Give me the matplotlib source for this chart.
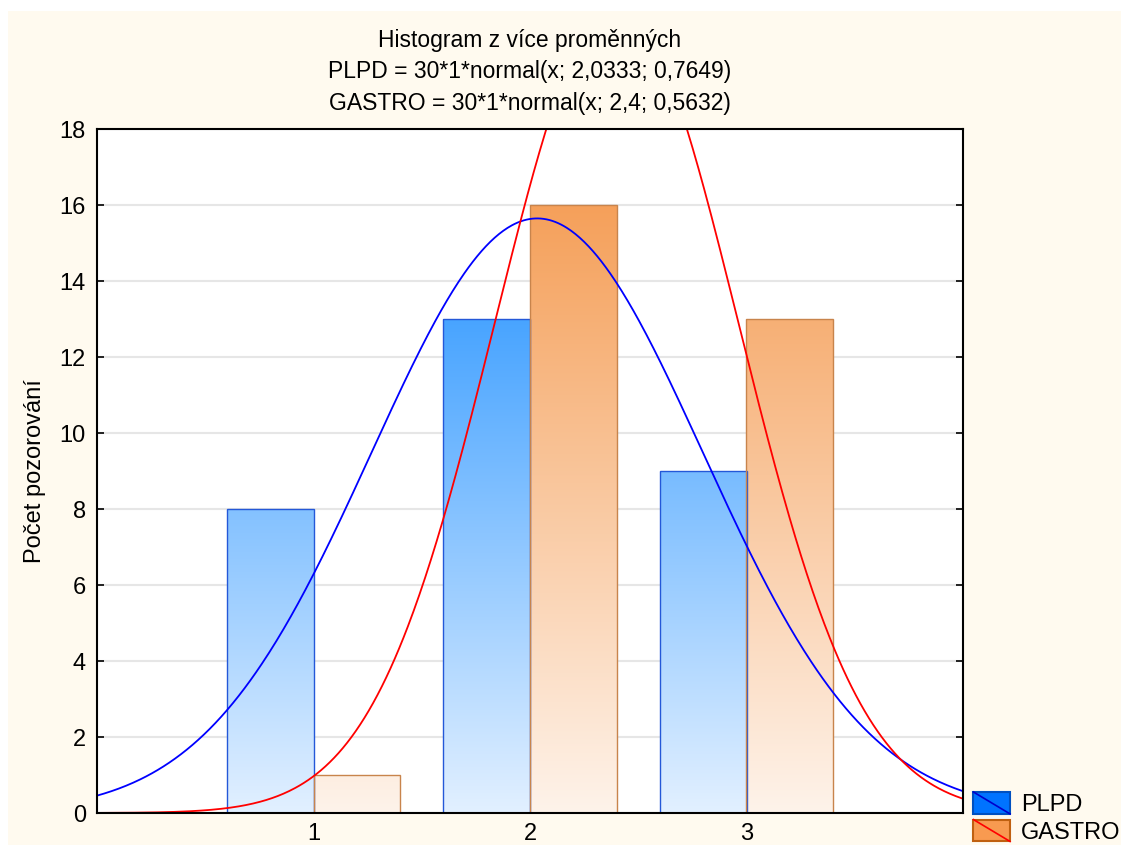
import numpy as np
import matplotlib
matplotlib.use('Agg')
import matplotlib.pyplot as plt
from matplotlib.patches import Rectangle
from matplotlib.lines import Line2D
from matplotlib.legend_handler import HandlerBase
from matplotlib.colors import LinearSegmentedColormap

plt.rcParams['font.family'] = ['Liberation Sans', 'DejaVu Sans']

categories = [1, 2, 3]
plpd_counts = [8, 13, 9]
gastro_counts = [1, 16, 13]
# fitted normal curves from the title: n * binwidth * normal(x; mean, sd)
plpd_fit = (30, 1, 2.0333, 0.7649)
gastro_fit = (30, 1, 2.4, 0.5632)
y_ticks = [0, 2, 4, 6, 8, 10, 12, 14, 16, 18]

title = ('Histogram z více proměnných\n'
         'PLPD = 30*1*normal(x; 2,0333; 0,7649)\n'
         'GASTRO = 30*1*normal(x; 2,4; 0,5632)')


def normal_curve(x, n, bw, mu, sd):
    return n * bw * np.exp(-0.5 * ((x - mu) / sd) ** 2) / (sd * np.sqrt(2 * np.pi))


class DiagHandler(HandlerBase):
    def __init__(self, face, edge, line):
        super().__init__()
        self.face, self.edge, self.line = face, edge, line

    def create_artists(self, legend, orig, xd, yd, w, h, fs, trans):
        r = Rectangle((-xd, -yd), w, h, facecolor=self.face, edgecolor=self.edge,
                      lw=1.5, transform=trans)
        l = Line2D([-xd, -xd + w], [-yd + h, -yd], color=self.line, lw=1.2, transform=trans)
        return [r, l]


fig = plt.figure(figsize=(11.21, 8.55), dpi=100)
fig.patch.set_facecolor('white')
fig.patches.append(Rectangle((8 / 1121, 10 / 855), 1 - 8 / 1121, 1 - 21 / 855,
                             transform=fig.transFigure, facecolor='#FFFAEF',
                             edgecolor='none', zorder=-10))

ax = fig.add_axes([97 / 1121, 42 / 855, 866 / 1121, 684 / 855])
ax.set_facecolor('white')
ax.set_xlim(0, 4)
ax.set_ylim(0, 18)

bw = 0.4
blue_cmap = LinearSegmentedColormap.from_list('b', ['#E2F0FF', '#48A4FF'])
orange_cmap = LinearSegmentedColormap.from_list('o', ['#FEF3EA', '#F5A05A'])

series = [(plpd_counts, -bw, blue_cmap, '#2458D8'),
          (gastro_counts, 0, orange_cmap, '#C8844C')]
for counts, off, cmap, edge in series:
    top = max(counts)
    for c, v in zip(categories, counts):
        x0 = c + off
        grad = np.linspace(0, 1, 256).reshape(-1, 1)
        im = ax.imshow(grad, cmap=cmap, origin='lower', aspect='auto',
                       extent=(x0, x0 + bw, 0, top), zorder=2, interpolation='bilinear')
        rect = Rectangle((x0, 0), bw, v, facecolor='none', edgecolor=edge, lw=1.0, zorder=3)
        ax.add_patch(rect)
        im.set_clip_path(rect)

xs = np.linspace(0, 4, 600)
ax.plot(xs, normal_curve(xs, *plpd_fit), color='#0000FF', lw=1.3, zorder=4)
ax.plot(xs, normal_curve(xs, *gastro_fit), color='#FF0000', lw=1.3, zorder=4)

ax.set_yticks(y_ticks)
ax.set_xticks(categories)
ax.grid(axis='y', color='#E6E6E6', lw=1.5, zorder=0)
ax.set_axisbelow(True)
ax.tick_params(axis='y', direction='in', length=5, width=1.2, labelsize=17,
               right=True, pad=8)
ax.tick_params(axis='x', direction='in', length=4, width=1.2, labelsize=17, pad=7)
for s in ax.spines.values():
    s.set_linewidth(1.5)
    s.set_zorder(5)

ax.set_ylabel('Počet pozorování', fontsize=17, labelpad=10)
ax.set_title(title, fontsize=16.5, linespacing=1.45, pad=14)

handles = [Rectangle((0, 0), 1, 1), Rectangle((0, 0), 1, 1)]
leg = fig.legend(handles, ['PLPD', 'GASTRO'], loc='lower left',
                 bbox_to_anchor=(964 / 1121, 2 / 855), frameon=False, fontsize=17,
                 handlelength=1.55, handleheight=1.05, handletextpad=0.45, labelspacing=0.15,
                 borderaxespad=0,
                 handler_map={handles[0]: DiagHandler('#0073FF', '#0050C0', '#0000CC'),
                              handles[1]: DiagHandler('#F89A50', '#C06010', '#FF0000')})

fig.savefig('out.png', dpi=100, facecolor=fig.get_facecolor())
